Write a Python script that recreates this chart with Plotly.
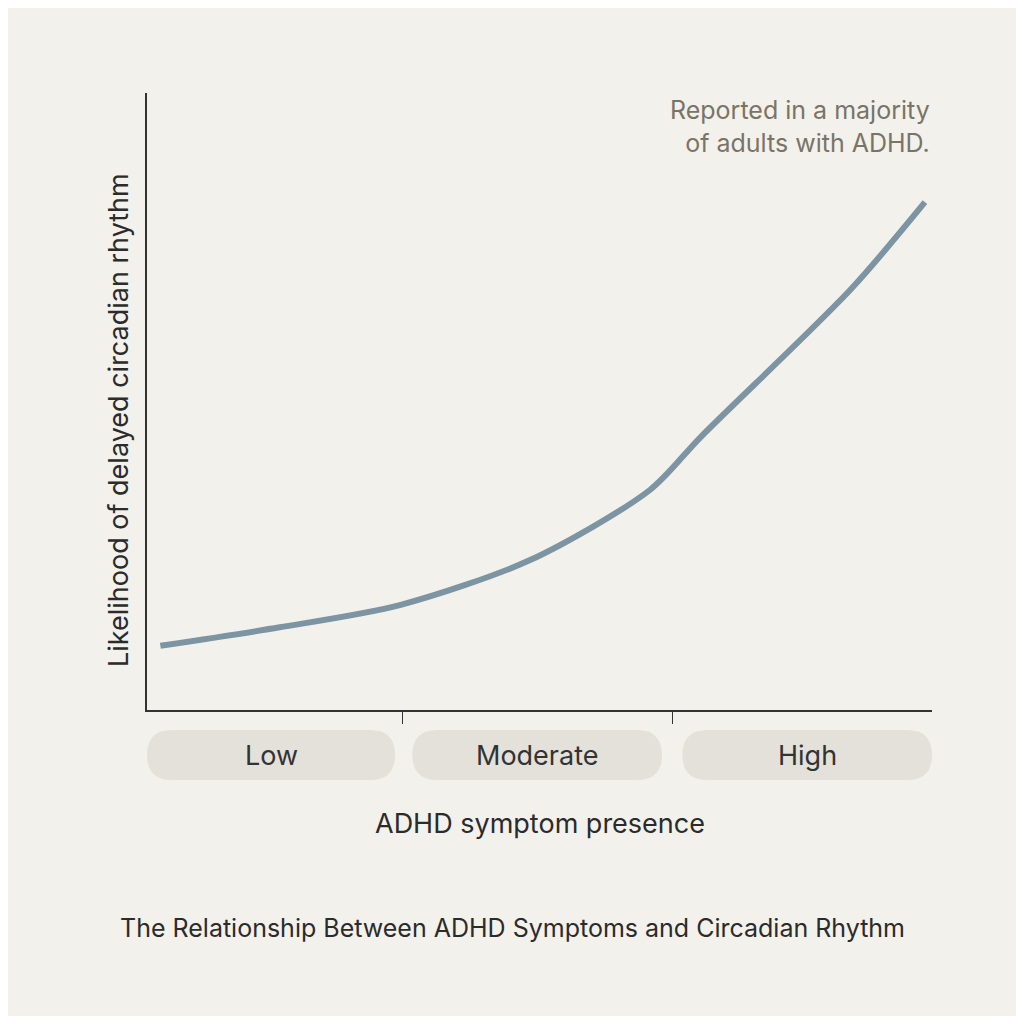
import plotly.graph_objects as go

xs = [0.017, 0.169, 0.322, 0.488, 0.641, 0.705, 0.896, 0.991]
ys = [0.104, 0.134, 0.170, 0.243, 0.357, 0.442, 0.681, 0.823]
categories = ["Low", "Moderate", "High"]
cat_bounds = [(0.0, 0.316), (0.338, 0.656), (0.682, 1.0)]
tick_pos = [0.325, 0.669]

BG = "#f3f1ec"
fig = go.Figure()
fig.add_trace(go.Scatter(x=xs, y=ys, mode="lines", line=dict(color="#7d94a3", width=6, shape="spline", smoothing=0.8),
                         hoverinfo="skip"))

W, H = 785, 617
y0, y1 = -20 / H, -70 / H
rx, ry = 25 / W, 25 / H
shapes = []
anns = []
for c, (a, b) in zip(categories, cat_bounds):
    p = (f"M {a+rx},{y0} L {b-rx},{y0} Q {b},{y0} {b},{(y0+y1)/2} Q {b},{y1} {b-rx},{y1} "
         f"L {a+rx},{y1} Q {a},{y1} {a},{(y0+y1)/2} Q {a},{y0} {a+rx},{y0} Z")
    shapes.append(dict(type="path", path=p, xref="paper", yref="paper", fillcolor="#e4e1da", line=dict(width=0), layer="below"))
    anns.append(dict(text=c, x=(a + b) / 2, y=(y0 + y1) / 2, xref="paper", yref="paper", showarrow=False,
                     xanchor="center", yanchor="middle", font=dict(size=27, color="#333333")))

anns.append(dict(text="Reported in a majority<br>of adults with ADHD.", x=1.0, y=1 - 0 / H, xref="paper", yref="paper",
                 xanchor="right", yanchor="top", align="right", showarrow=False,
                 font=dict(size=25, color="#7a7466")))
anns.append(dict(text="ADHD symptom presence", x=0.5, y=-113 / H, xref="paper", yref="paper", yanchor="middle",
                 xanchor="center", showarrow=False, font=dict(size=27, color="#2b2b2b")))
anns.append(dict(text="Likelihood of delayed circadian rhythm", x=-29 / W, y=(710 - 420) / H, xref="paper", yref="paper",
                 textangle=-90, xanchor="center", yanchor="middle", showarrow=False, font=dict(size=27, color="#2b2b2b")))
anns.append(dict(text="The Relationship Between ADHD Symptoms and Circadian Rhythm", x=(512 - 147) / W, y=-(928 - 710) / H,
                 xref="paper", yref="paper", xanchor="center", yanchor="middle", showarrow=False,
                 font=dict(size=25, color="#2b2b2b")))

fig.update_layout(
    width=1008, height=1008, paper_bgcolor=BG, plot_bgcolor=BG, showlegend=False,
    margin=dict(l=139, r=84, t=85, b=306),
    font=dict(family="Inter, Roboto, sans-serif"),
    shapes=shapes, annotations=anns,
    xaxis=dict(range=[0, 1], showgrid=False, zeroline=False, showline=True, linecolor="#333", linewidth=1.5,
               tickvals=tick_pos, ticktext=["", ""], ticks="outside", ticklen=12, tickcolor="#333", fixedrange=True),
    yaxis=dict(range=[0, 1], showgrid=False, zeroline=False, showline=True, linecolor="#333", linewidth=1.5,
               showticklabels=False, ticks="", fixedrange=True),
)
fig.write_html("out.html")
